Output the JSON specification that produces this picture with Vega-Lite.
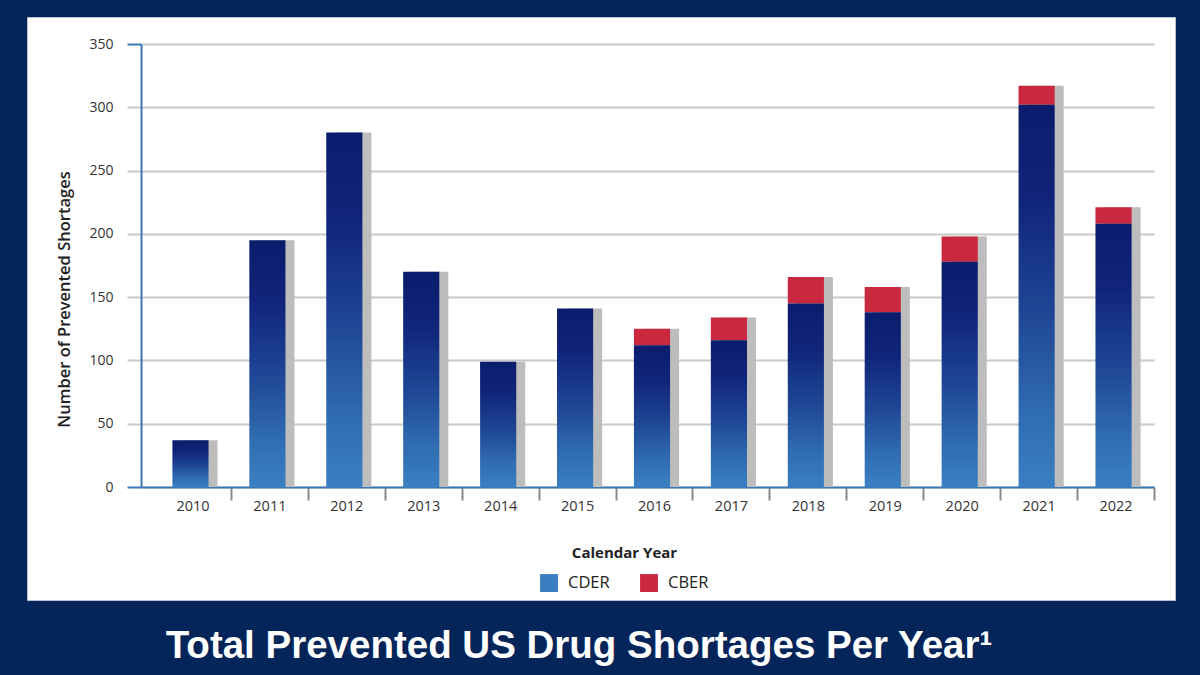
{
  "$schema": "https://vega.github.io/schema/vega-lite/v6.json",
  "width": 1148,
  "height": 583,
  "autosize": {"type": "none"},
  "padding": {"left": 27, "top": 17, "right": 25, "bottom": 75},
  "background": "#03255a",
  "title": {
    "text": "Total Prevented US Drug Shortages Per Year¹",
    "orient": "bottom",
    "anchor": "middle",
    "frame": "group",
    "dx": -22,
    "offset": 58,
    "baseline": "alphabetic",
    "color": "#ffffff",
    "font": "Liberation Sans",
    "fontSize": 38.5,
    "fontWeight": "bold"
  },
  "config": {
    "font": "Open Sans",
    "view": {"fill": "#ffffff", "stroke": "#b9c2d0", "strokeWidth": 1}
  },
  "data": {
    "values": [
      {"year": "2010", "cder": 37, "total": 37},
      {"year": "2011", "cder": 195, "total": 195},
      {"year": "2012", "cder": 280, "total": 280},
      {"year": "2013", "cder": 170, "total": 170},
      {"year": "2014", "cder": 99, "total": 99},
      {"year": "2015", "cder": 141, "total": 141},
      {"year": "2016", "cder": 112, "total": 125},
      {"year": "2017", "cder": 116, "total": 134},
      {"year": "2018", "cder": 145, "total": 166},
      {"year": "2019", "cder": 138, "total": 158},
      {"year": "2020", "cder": 178, "total": 198},
      {"year": "2021", "cder": 302, "total": 317},
      {"year": "2022", "cder": 208, "total": 221}
    ]
  },
  "encoding": {
    "x": {
      "field": "year",
      "type": "ordinal",
      "scale": {"range": [114, 1127], "paddingInner": 0, "paddingOuter": 0.0846, "align": 1},
      "axis": {
        "title": "Calendar Year",
        "orient": "bottom",
        "offset": -113,
        "tickBand": "extent",
        "labelAngle": 0,
        "grid": false,
        "domainColor": "#3a78b8",
        "domainWidth": 2,
        "tickColor": "#8a8a8a",
        "tickOpacity": {"condition": {"test": "datum.extra", "value": 0}, "value": 1},
        "tickWidth": 2,
        "tickSize": 13,
        "labelFontSize": 14.5,
        "labelColor": "#333333",
        "labelPadding": -1,
        "titleFontSize": 15,
        "titleFontWeight": "bold",
        "titleColor": "#222222",
        "titleX": 597,
        "titleY": 65,
        "titleBaseline": "middle"
      }
    }
  },
  "layer": [
    {
      "mark": {"type": "bar", "color": "#bdbdbd", "width": {"band": 0.47}, "xOffset": 7},
      "encoding": {
        "y": {
          "field": "total",
          "type": "quantitative",
          "scale": {"domain": [0, 350], "range": [470, 27], "nice": false},
          "axis": {
            "title": "Number of Prevented Shortages",
            "offset": -114,
            "values": [0, 50, 100, 150, 200, 250, 300, 350],
            "grid": true,
            "gridColor": "#c8c8c8",
            "gridWidth": 2,
            "domainColor": "#3a78b8",
            "domainWidth": 2,
            "tickSize": 14,
            "tickWidth": 2,
            "tickColor": {"condition": {"test": "datum.value === 0 || datum.value === 350", "value": "#3a78b8"}, "value": "#c8c8c8"},
            "labelFontSize": 14,
            "labelColor": "#333333",
            "labelPadding": 14,
            "titleFontSize": 16.5,
            "titleFontWeight": 600,
            "titleColor": "#222222",
            "titleX": -69,
            "titleY": 282
          }
        }
      }
    },
    {
      "mark": {"type": "bar", "width": {"band": 0.47}, "xOffset": -2},
      "encoding": {
        "y": {"field": "total", "type": "quantitative"},
        "y2": {"field": "cder"},
        "color": {
          "datum": "CBER",
          "type": "nominal",
          "scale": {"domain": ["CDER", "CBER"], "range": ["#3a7ec2", "#c9283e"]},
          "legend": {
            "orient": "none",
            "legendX": 513,
            "legendY": 557,
            "direction": "horizontal",
            "title": null,
            "padding": 0,
            "symbolType": "square",
            "symbolSize": 320,
            "symbolStrokeWidth": 0,
            "symbolOpacity": 1,
            "labelFontSize": 16.5,
            "labelColor": "#222222",
            "labelOffset": 10,
            "columnPadding": 30
          }
        }
      }
    },
    {
      "mark": {
        "type": "bar",
        "width": {"band": 0.47},
        "xOffset": -2,
        "color": {
          "gradient": "linear",
          "x1": 0, "y1": 0, "x2": 0, "y2": 1,
          "stops": [
            {"offset": 0, "color": "#0a1c6c"},
            {"offset": 0.25, "color": "#10257a"},
            {"offset": 0.55, "color": "#1f4795"},
            {"offset": 0.8, "color": "#2f6bb0"},
            {"offset": 1, "color": "#3a80c2"}
          ]
        }
      },
      "encoding": {
        "y": {"field": "cder", "type": "quantitative"}
      }
    }
  ]
}
